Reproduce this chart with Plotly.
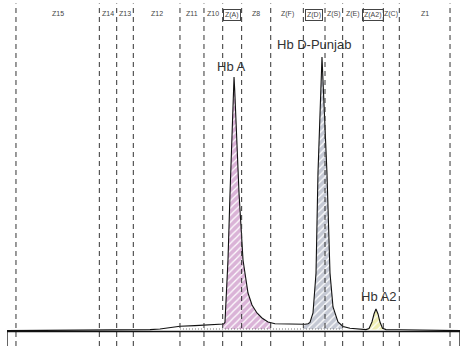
import numpy as np
import plotly.graph_objects as go

# Chromatogram trace (retention time in minutes, signal in % of max)
time_min = [0.000, 0.702, 1.232, 1.629, 1.894, 2.026, 2.159, 2.291, 2.490, 2.689,
            2.834, 2.868, 2.887, 2.927, 2.954, 2.980, 2.997, 3.007, 3.016, 3.033,
            3.073, 3.126, 3.192, 3.245, 3.311, 3.377, 3.457, 3.550, 3.748, 3.947,
            3.987, 4.013, 4.053, 4.093, 4.119, 4.146, 4.172, 4.205, 4.238, 4.278,
            4.318, 4.384, 4.450, 4.543, 4.649, 4.755, 4.795, 4.834, 4.861, 4.887,
            4.914, 4.940, 4.974, 5.020, 5.205, 5.603, 6.000]
signal = [0.33, 0.40, 0.47, 0.55, 0.69, 0.91, 1.35, 1.89, 2.15, 2.37,
          2.51, 2.73, 3.28, 26.05, 50.46, 74.50, 87.98, 92.71, 87.98, 74.50,
          50.46, 26.05, 14.03, 9.65, 6.74, 4.92, 3.46, 2.81, 2.66, 2.62,
          2.81, 3.28, 6.74, 21.31, 57.74, 78.87, 100.0, 78.87, 57.74, 21.31,
          8.93, 3.46, 1.82, 1.17, 0.84, 0.69, 1.09, 3.46, 6.38, 8.20,
          6.38, 3.46, 1.17, 0.69, 0.62, 0.47, 0.33]

# Zone windows
zone_edges = [0.119, 1.223, 1.453, 1.673, 2.291, 2.609, 2.857, 3.108, 3.493,
              3.925, 4.212, 4.446, 4.719, 4.984, 5.196, 5.868]
zone_labels = ["Z15", "Z14", "Z13", "Z12", "Z11", "Z10", "Z(A)", "Z8", "Z(F)",
               "Z(D)", "Z(S)", "Z(E)", "Z(A2)", "Z(C)", "Z1"]
boxed_zones = ["Z(A)", "Z(D)", "Z(A2)"]

# Integrated peaks
peak_names = ["Hb A", "Hb D-Punjab", "Hb A2"]
peak_start = [2.861, 3.925, 4.755]
peak_end = [3.490, 4.437, 4.993]
peak_base = [0.91, 0.91, 0.69]
peak_colors = ["#dab3d7", "#c4c8d3", "#efeeb2"]
label_x = [2.967, 4.066, 4.914]
label_y = [96.7, 104.4, 12.6]

baseline_start, baseline_end, baseline_level = 2.291, 4.450, 0.91

t = np.array(time_min)
s = np.array(signal)

fig = go.Figure()

for name, a, b, base, col in zip(peak_names, peak_start, peak_end, peak_base, peak_colors):
    m = (t > a) & (t < b)
    xs = [a] + list(t[m]) + [b]
    ys = [float(np.interp(a, t, s))] + list(s[m]) + [float(np.interp(b, t, s))]
    px = xs + [b, a]
    py = ys + [base, base]
    fig.add_trace(go.Scatter(
        x=px, y=py, fill="toself", mode="lines", line=dict(width=0),
        fillcolor=col,
        fillpattern=dict(shape="/", bgcolor=col, fgcolor="white",
                         size=5, solidity=0.25, fillmode="replace"),
        hoverinfo="skip", showlegend=False))

fig.add_trace(go.Scatter(
    x=[baseline_start, baseline_end], y=[baseline_level, baseline_level],
    mode="lines", line=dict(color="#777", width=1, dash="1px,2px"),
    hoverinfo="skip", showlegend=False))

fig.add_trace(go.Scatter(x=time_min, y=signal, mode="lines",
                         line=dict(color="#111", width=1.1), showlegend=False))

shapes = []
for e in zone_edges:
    shapes.append(dict(type="line", xref="x", yref="paper", x0=e, x1=e,
                       y0=0, y1=0.99, line=dict(color="#333", width=1, dash="5px,4px")))
x_lo, x_hi = 0.0, 6.0
shapes.append(dict(type="line", xref="x", yref="y", x0=x_lo, x1=x_hi, y0=0, y1=0,
                   line=dict(color="#111", width=1.5)))
for xv in (x_lo, x_hi):
    shapes.append(dict(type="line", xref="x", yref="paper", x0=xv, x1=xv, y0=0,
                       y1=0.042, line=dict(color="#111", width=1.3)))

annotations = []
for i, lab in enumerate(zone_labels):
    xc = (zone_edges[i] + zone_edges[i + 1]) / 2
    boxed = lab in boxed_zones
    annotations.append(dict(
        x=xc, y=0.975, xref="x", yref="paper", text=lab, showarrow=False,
        font=dict(family="Liberation Sans, Arial", size=7, color="#444"),
        bordercolor="#444" if boxed else "rgba(0,0,0,0)",
        borderwidth=1 if boxed else 0, borderpad=1))
for name, lx, ly in zip(peak_names, label_x, label_y):
    annotations.append(dict(
        x=lx, y=ly, xref="x", yref="y", text=name, showarrow=False,
        font=dict(family="Liberation Sans, Arial", size=13, color="#333")))

fig.update_layout(
    width=463, height=346,
    margin=dict(l=7, r=3, t=0, b=0),
    paper_bgcolor="white", plot_bgcolor="white",
    xaxis=dict(range=[x_lo, x_hi], visible=False),
    yaxis=dict(range=[-5.28, 120.77], visible=False),
    shapes=shapes, annotations=annotations, showlegend=False)

fig.write_html("out.html")
